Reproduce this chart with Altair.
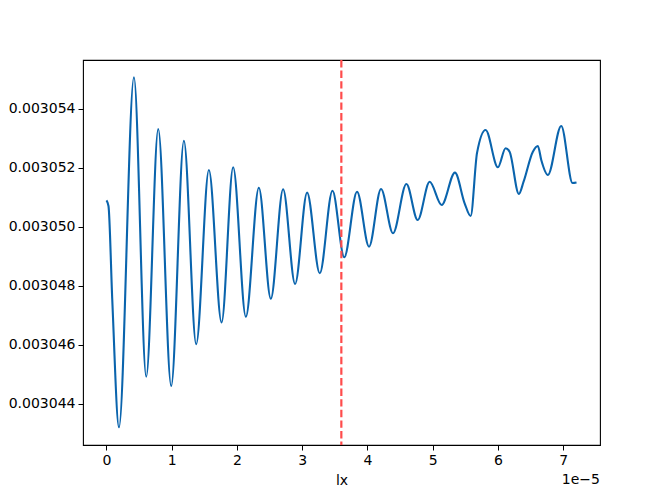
import altair as alt
import pandas as pd

# x positions in units of 1e-5 (as shown by the axis offset "1e-5")
x_e5 = [0.0, 0.0306, 0.0888, 0.1914, 0.4211, 0.6095, 0.7933, 0.9923, 1.1868, 1.3752,
        1.5697, 1.7642, 1.9418, 2.1363, 2.3354, 2.5191, 2.7075, 2.8913, 3.0750, 3.2695,
        3.4640, 3.6447, 3.8407, 4.0245, 4.2083, 4.3920, 4.5972, 4.7703, 4.9541, 5.1378,
        5.3415, 5.4901, 5.5819, 5.6800, 5.8116, 6.0000, 6.1179, 6.1792, 6.3216, 6.3936,
        6.5360, 6.6126, 6.6646, 6.7657, 6.9709, 7.1440, 7.2052]
y_vals = [0.003050888, 0.003050700, 0.003047515, 0.003043200, 0.003055064, 0.003044915,
          0.003053312, 0.003044600, 0.003052915, 0.003046014, 0.003051922, 0.003046753,
          0.003052014, 0.003046949, 0.003051322, 0.003047559, 0.003051268, 0.003048058,
          0.003051153, 0.003048420, 0.003051220, 0.003048963, 0.003051186, 0.003049322,
          0.003051278, 0.003049776, 0.003051447, 0.003050227, 0.003051525, 0.003050736,
          0.003051831, 0.003050793, 0.003050363, 0.003052500, 0.003053278, 0.003052014,
          0.003052658, 0.003052542, 0.003051108, 0.003051525, 0.003052542, 0.003052736,
          0.003052261, 0.003051753, 0.003053414, 0.003051481, 0.003051498]

vline_x = [3.6e-5]
x_ticks = [0, 1e-5, 2e-5, 3e-5, 4e-5, 5e-5, 6e-5, 7e-5]
y_ticks = [0.003044, 0.003046, 0.003048, 0.003050, 0.003052, 0.003054]

df = pd.DataFrame({"x": [v * 1e-5 for v in x_e5], "y": y_vals})
df_rule = pd.DataFrame({"x": vline_x})
df_note = pd.DataFrame({"t": ["1e\u22125"]})

W, H = 517, 385
FONT = "DejaVu Sans"

xscale = alt.Scale(domain=[-0.36e-5, 7.565e-5], nice=False, zero=False)
yscale = alt.Scale(domain=[0.0030426, 0.00305565], nice=False, zero=False)

line = alt.Chart(df).mark_line(color="#0a64ad", strokeWidth=2.1, interpolate="monotone").encode(
    x=alt.X("x:Q", scale=xscale,
            axis=alt.Axis(values=x_ticks, title="lx",
                          labelExpr="format(datum.value*1e5, '.0f')",
                          grid=False, domain=False, tickColor="black", tickSize=5,
                          labelPadding=3, labelFontSize=14, labelColor="black", labelFont=FONT,
                          titleFont=FONT, titleFontSize=14, titleFontWeight="normal",
                          titleColor="black", titlePadding=6)),
    y=alt.Y("y:Q", scale=yscale,
            axis=alt.Axis(values=y_ticks, title=None, format=".6f",
                          grid=False, domain=False, tickColor="black", tickSize=5,
                          labelPadding=3, labelFontSize=14, labelColor="black", labelFont=FONT)),
)

rule = alt.Chart(df_rule).mark_rule(color="#ff4c4c", strokeWidth=2.2,
                                    strokeDash=[7.4, 3.2]).encode(x="x:Q")

offset = alt.Chart(df_note).mark_text(align="right", baseline="top",
                                      font=FONT, fontSize=14, fontWeight="normal",
                                      color="black").encode(
    text="t:N", x=alt.value(W), y=alt.value(H + 28))

chart = alt.layer(line, rule, offset).properties(
    width=W, height=H,
    background="white",
    autosize=alt.AutoSizeParams(type="none"),
    padding={"left": 75, "top": 52, "right": 58, "bottom": 47},
).configure_view(stroke="black", strokeWidth=1.1)

chart.save("out.html", embed_options={"renderer": "svg", "actions": False})
